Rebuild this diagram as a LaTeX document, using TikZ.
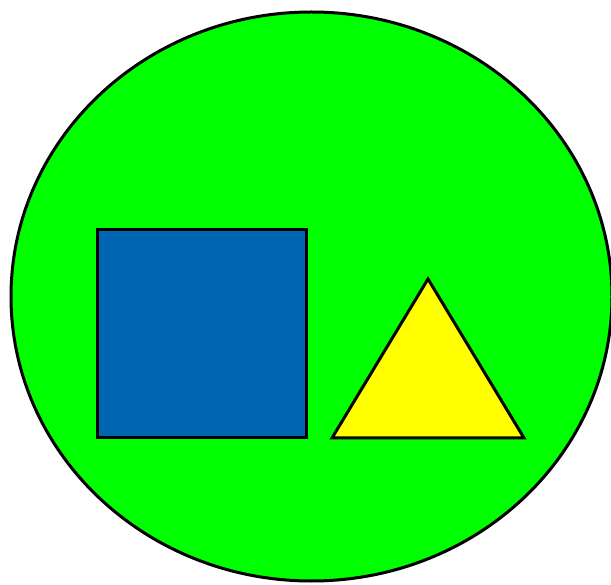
\documentclass[tikz,border=0pt]{standalone}
\definecolor{bggreen}{RGB}{0,255,0}
\definecolor{sqblue}{RGB}{0,102,180}
\definecolor{triyellow}{RGB}{255,255,0}
\tikzset{shape outline/.style={draw=black, line width=3pt, line join=miter}}
\begin{document}
\begin{tikzpicture}[x=1pt,y=-1pt]
\useasboundingbox (0,0) rectangle (611,585);
\clip (0,0) rectangle (611,585);
\draw[shape outline, fill=bggreen] (311.5,296.5) ellipse [x radius=300.5, y radius=284.5];
\draw[shape outline, fill=sqblue] (97,229.5) rectangle (306,438);
\draw[shape outline, fill=triyellow] (428,279) -- (524,438) -- (332,438) -- cycle;
\end{tikzpicture}
\end{document}
